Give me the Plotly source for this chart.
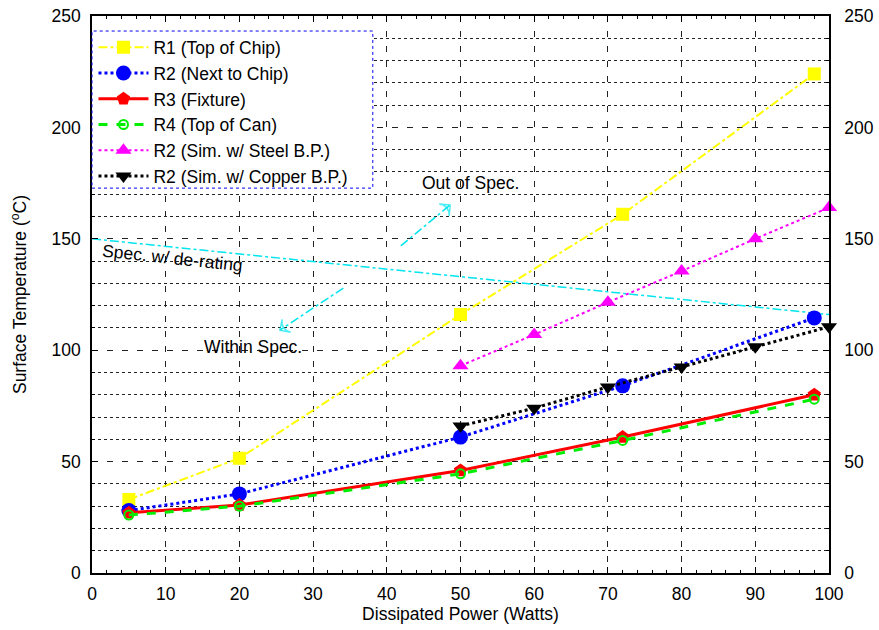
import plotly.graph_objects as go

# ---- data ----
meas_x = [5, 20, 50, 72, 98]
r1_top_chip = [33, 51.5, 116, 161, 224]
r2_next_chip = [28, 35.5, 61, 84, 114.5]
r3_fixture = [27, 30.5, 46, 61, 80]
r4_top_can = [26, 30, 44.5, 59.5, 78]

sim_x = [50, 60, 70, 80, 90, 100]
r2_sim_steel = [93, 107, 121.5, 135.5, 150, 164]
r2_sim_copper = [66, 74, 83.5, 92.5, 101.5, 110.5]

spec_x = [0, 100]
spec_y = [150, 116]

arrow_up_x = [41.9, 48.6]
arrow_up_y = [146.8, 165.2]
arrow_dn_x = [34.1, 25.5]
arrow_dn_y = [127.9, 109.0]

FONT = "Liberation Sans, Arial, sans-serif"
FS = 17.5

fig = go.Figure()

# spec line and arrows (no legend)
fig.add_trace(go.Scatter(x=spec_x, y=spec_y, mode="lines", showlegend=False,
                         line=dict(color="#00e5ee", width=1.5, dash="dashdot"), hoverinfo="skip"))
for ax_, ay_ in [(arrow_up_x, arrow_up_y), (arrow_dn_x, arrow_dn_y)]:
    fig.add_trace(go.Scatter(x=ax_, y=ay_, mode="lines+markers", showlegend=False,
                             line=dict(color="#00e5ee", width=1.5, dash="dashdot"),
                             marker=dict(symbol=["circle", "arrow-wide-open"], size=[0, 11],
                                         angleref="previous", color="#00e5ee",
                                         line=dict(color="#00e5ee", width=1.5)),
                             hoverinfo="skip"))

series = [
    ("R1 (Top of Chip)", meas_x, r1_top_chip, "#ffff00", "dashdot", 2, "square", 13, None),
    ("R2 (Next to Chip)", meas_x, r2_next_chip, "#0000ff", "dot", 3, "circle", 15, None),
    ("R3 (Fixture)", meas_x, r3_fixture, "#ff0000", "solid", 3, "pentagon", 14, None),
    ("R4 (Top of Can)", meas_x, r4_top_can, "#00ee00", "dash", 3, "circle-open", 9, 2),
    ("R2 (Sim. w/ Steel B.P.)", sim_x, r2_sim_steel, "#ff00ff", "dot", 2, "triangle-up", 14, None),
    ("R2 (Sim. w/ Copper B.P.)", sim_x, r2_sim_copper, "#000000", "dot", 3, "triangle-down", 14, None),
]
for i, (name, xs, ys, col, dash, lw, sym, ms, mlw) in enumerate(series):
    mk = dict(symbol=sym, size=ms, color=col)
    if mlw:
        mk["line"] = dict(color=col, width=mlw)
    fig.add_trace(go.Scatter(x=xs, y=ys, name=name, mode="lines+markers",
                             line=dict(color=col, width=lw, dash=dash),
                             marker=mk, cliponaxis=False, legendgroup=f"g{i}"))

# invisible trace on the right axis so it renders
fig.add_trace(go.Scatter(x=[0], y=[0], yaxis="y2", mode="markers", showlegend=False,
                         marker=dict(opacity=0), hoverinfo="skip"))

fig.add_annotation(x=10.9, y=141.4, text="Spec. w/ de-rating", showarrow=False,
                   textangle=6, font=dict(size=FS, color="black", family=FONT))
fig.add_annotation(x=51.3, y=175, text="Out of Spec.", showarrow=False,
                   font=dict(size=FS, color="black", family=FONT))
fig.add_annotation(x=21.8, y=101.4, text="Within Spec.", showarrow=False,
                   font=dict(size=FS, color="black", family=FONT))

# legend box: white fill with dotted blue border
fig.add_shape(type="rect", xref="paper", yref="paper", x0=0, x1=0.381, y0=0.691, y1=0.973,
              line=dict(color="#0000ff", width=1, dash="dot"), fillcolor="white", layer="above")

axis_common = dict(showline=True, linecolor="black", linewidth=1.5, ticks="inside",
                   tickcolor="black", ticklen=6, tickfont=dict(size=FS, family=FONT, color="black"),
                   zeroline=False, automargin=False)

fig.update_layout(
    width=879, height=630,
    margin=dict(l=92, r=50, t=16, b=57),
    paper_bgcolor="white", plot_bgcolor="white",
    font=dict(family=FONT, color="black"),
    xaxis=dict(range=[0, 100], dtick=10, tick0=0, mirror="ticks", ticklabelstandoff=4,
               showgrid=True, gridcolor="#222222", griddash="6px,9px", gridwidth=1,
               minor=dict(dtick=2, ticks="inside", ticklen=3, tickcolor="black", showgrid=False),
               title=dict(text="Dissipated Power (Watts)", font=dict(size=FS, family=FONT), standoff=4),
               **axis_common),
    yaxis=dict(range=[0, 250], dtick=50, tick0=0, mirror=True, ticklabelstandoff=6,
               showgrid=True, gridcolor="#222222", griddash="6px,9px", gridwidth=1,
               minor=dict(dtick=10, ticks="inside", ticklen=3, tickcolor="black",
                          showgrid=True, gridcolor="#222222", griddash="dot", gridwidth=1),
               title=dict(text="Surface Temperature (<sup>o</sup>C)", font=dict(size=FS, family=FONT), standoff=20),
               **axis_common),
    yaxis2=dict(range=[0, 250], dtick=50, tick0=0, overlaying="y", side="right", ticklabelstandoff=10,
                showgrid=False, minor=dict(dtick=10, ticks="inside", ticklen=3, tickcolor="black"),
                **axis_common),
    legend=dict(x=0.002, y=0.976, xanchor="left", yanchor="top", bgcolor="rgba(0,0,0,0)",
                borderwidth=0, font=dict(size=FS, family=FONT, color="black"),
                traceorder="grouped", tracegroupgap=0, itemwidth=50),
    showlegend=True,
)

fig.write_html("out.html", post_script="document.body.style.margin='0';",
               config={"displayModeBar": False})
